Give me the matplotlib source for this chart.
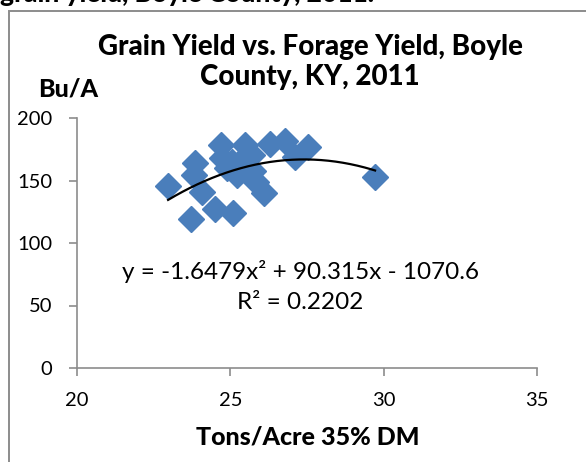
import numpy as np
import matplotlib
matplotlib.use("Agg")
import matplotlib.pyplot as plt
from matplotlib.patches import Rectangle

# Data
forage_yield = [22.97, 23.72, 23.85, 23.81, 24.08, 24.50, 24.70, 24.73, 25.09, 25.05,
                24.89, 25.32, 25.22, 25.47, 25.71, 25.74, 25.84, 26.10, 26.29, 26.78,
                27.11, 27.53, 29.72]
grain_yield = [145.6, 119.2, 164.0, 154.4, 140.8, 127.2, 178.4, 168.0, 124.0, 164.8,
               160.0, 164.8, 154.4, 178.4, 170.4, 157.6, 148.8, 140.0, 179.2, 181.6,
               168.8, 176.8, 152.8]
trend_coeffs = [-1.6479, 90.315, -1070.6]
x_ticks = [20, 25, 30, 35]
y_ticks = [0, 50, 100, 150, 200]

W, H = 586, 462
fig = plt.figure(figsize=(W / 100, H / 100), dpi=100)
plt.rcParams['font.family'] = ['Lato', 'DejaVu Sans']

# outer chart frame (extends past the image on right/bottom)
fig.patches.append(Rectangle((9 / W, -0.1), 1.2, 1.1 - 11 / H, transform=fig.transFigure,
                             fill=False, edgecolor='#8c8c8c', linewidth=1.4))

# cut-off document text at the very top
fig.text(0 / W, 1 - 2.5 / H, "grain yield, Boyle County, 2011.", fontsize=19, fontweight='black',
         ha='left', va='baseline', color='black')

ax = fig.add_axes([77 / W, 1 - 368 / H, (537 - 77) / W, (368 - 118) / H])
ax.set_xlim(20, 35)
ax.set_ylim(0, 200)
ax.set_xticks(x_ticks)
ax.set_yticks(y_ticks)
for s in ['top', 'right']:
    ax.spines[s].set_visible(False)
for s in ['left', 'bottom']:
    ax.spines[s].set_color('#8c8c8c')
    ax.spines[s].set_linewidth(1.2)
ax.tick_params(direction='out', length=6, width=1.2, color='#8c8c8c', labelsize=14.5,
               labelcolor='black')
ax.tick_params(axis='x', pad=11)
ax.tick_params(axis='y', pad=12)
ax.patch.set_alpha(0)

ax.plot(forage_yield, grain_yield, linestyle='none', marker='D', markersize=13.5,
        color='#4a7ebb', markeredgecolor='#4a7ebb', zorder=3)

xs = np.linspace(min(forage_yield), max(forage_yield), 200)
ax.plot(xs, np.polyval(trend_coeffs, xs), color='black', linewidth=1.6, zorder=4)

ax.text(0.485, 0.385, "y = -1.6479x² + 90.315x - 1070.6", transform=ax.transAxes,
        fontsize=17.5, ha='center', va='center')
ax.text(0.485, 0.262, "R² = 0.2202", transform=ax.transAxes,
        fontsize=17.5, ha='center', va='center')

fig.text(310 / W, 1 - 62 / H, "Grain Yield vs. Forage Yield, Boyle\nCounty, KY, 2011",
         fontsize=20, fontweight='black', ha='center', va='center', linespacing=1.15)
fig.text(68 / W, 1 - 89 / H, "Bu/A", fontsize=18, fontweight='black', ha='center', va='center')
fig.text(308 / W, 1 - 437 / H, "Tons/Acre 35% DM", fontsize=18, fontweight='black',
         ha='center', va='center')

fig.savefig("out.png", dpi=100)
